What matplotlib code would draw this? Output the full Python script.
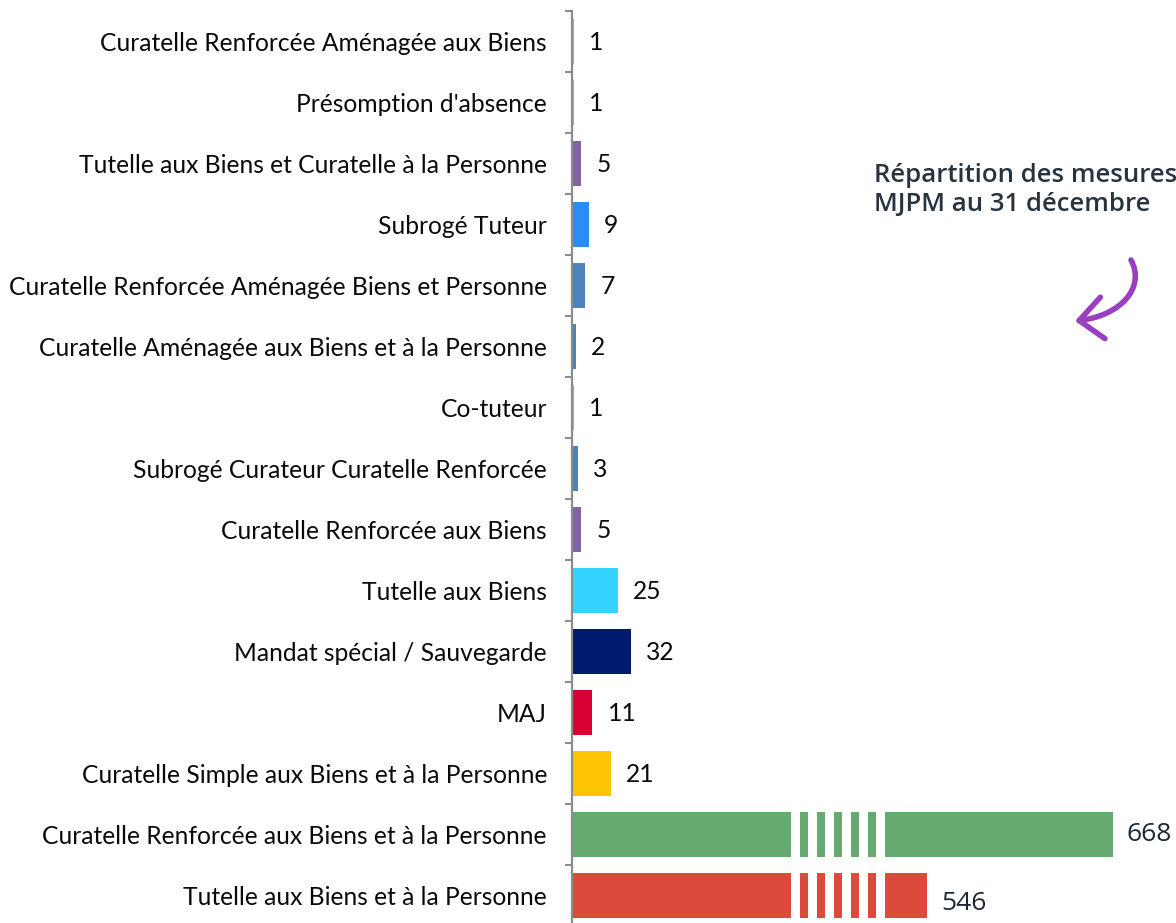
import numpy as np
import matplotlib.pyplot as plt
from matplotlib.patches import FancyArrowPatch, ArrowStyle
from matplotlib.path import Path

# Mesures suivies au 31 décembre (de haut en bas)
mesures = [
    "Curatelle Renforcée Aménagée aux Biens",
    "Présomption d'absence",
    "Tutelle aux Biens et Curatelle à la Personne",
    "Subrogé Tuteur",
    "Curatelle Renforcée Aménagée Biens et Personne",
    "Curatelle Aménagée aux Biens et à la Personne",
    "Co-tuteur",
    "Subrogé Curateur Curatelle Renforcée",
    "Curatelle Renforcée aux Biens",
    "Tutelle aux Biens",
    "Mandat spécial / Sauvegarde",
    "MAJ",
    "Curatelle Simple aux Biens et à la Personne",
    "Curatelle Renforcée aux Biens et à la Personne",
    "Tutelle aux Biens et à la Personne",
]
effectifs = [1, 1, 5, 9, 7, 2, 1, 3, 5, 25, 32, 11, 21, 668, 546]

couleurs = [
    "#95B3D7", "#95B3D7", "#8064A2", "#2A8CF7", "#4F81BD",
    "#4F81BD", "#95B3D7", "#4F81BD", "#8064A2", "#33D4FF",
    "#001A70", "#D80032", "#FFC505", "#66AA72", "#DB4A3A",
]

# axe coupé : échelle linéaire jusqu'à 119, zone de coupure, puis échelle resserrée
knots_val = [-100.0, 0.0, 119.0, 518.5, 2000.0]
knots_px = [-184.0, 0.0, 219.0, 313.0, 313.0 + (2000.0 - 518.5) * 1.525]


def fwd(v):
    return np.interp(v, knots_val, knots_px)


def inv(p):
    return np.interp(p, knots_px, knots_val)


W, H = 1176, 923
fig = plt.figure(figsize=(W / 100, H / 100), dpi=100)
ax = fig.add_axes([572 / W, -3 / H, (W - 572) / W, 915 / H])
ax.set_xscale("function", functions=(fwd, inv))

y = np.arange(len(mesures))
ax.barh(y, effectifs, height=0.75, color=couleurs, zorder=2)

# bandes blanches de la coupure sur les deux grandes barres
gros = [i for i, v in enumerate(effectifs) if v > knots_val[3]]
for k in range(6):
    p0 = 219 + 17 * k
    x0, x1 = inv(p0), inv(p0 + 9)
    ax.barh([y[i] for i in gros], x1 - x0, left=x0, height=0.8,
            color="white", zorder=3)

ax.set_xlim(0, inv(W - 572))
ax.set_ylim(len(mesures) - 0.5, -0.5)

ax.set_yticks(y)
ax.set_yticklabels(mesures, family="Lato", fontsize=17.7, color="#0A0A0A")
ax.tick_params(axis="y", which="major", length=0, pad=18)
ax.set_yticks(np.arange(len(mesures) + 1) - 0.5, minor=True)
ax.tick_params(axis="y", which="minor", length=5, width=1.5,
               color="#8C8C8C", direction="out")
ax.set_xticks([])

for s in ["top", "right", "bottom"]:
    ax.spines[s].set_visible(False)
ax.spines["left"].set_color("#8C8C8C")
ax.spines["left"].set_linewidth(1.6)
ax.spines["left"].set_zorder(4)

for i, v in enumerate(effectifs):
    if v > knots_val[3]:
        dy = 0 if v == max(effectifs) else -6
        ax.annotate(str(v), (v, i), xytext=(10, dy), textcoords="offset points",
                    va="center", ha="left", family="Open Sans", fontsize=19,
                    color="#1C2833", annotation_clip=False)
    else:
        ax.annotate(str(v), (v, i), xytext=(11, -1), textcoords="offset points",
                    va="center", ha="left", family="Lato", fontsize=17.7,
                    color="#0A0A0A")

# titre et flèche, en coordonnées pixels de la figure
over = fig.add_axes([0, 0, 1, 1], facecolor="none")
over.set_xlim(0, W)
over.set_ylim(H, 0)
over.axis("off")
over.text(874, 190, "Répartition des mesures\nMJPM au 31 décembre",
          family="Open Sans", fontweight="semibold", fontsize=18.5,
          color="#27333E", va="center", ha="left", linespacing=1.22)

chemin = Path([(1131, 260), (1146, 288), (1120, 316), (1075, 321)],
              [Path.MOVETO, Path.CURVE4, Path.CURVE4, Path.CURVE4])
fleche = FancyArrowPatch(path=chemin, transform=over.transData,
                         arrowstyle=ArrowStyle("->", head_length=17, head_width=15),
                         mutation_scale=1, color="#9A3FC0", linewidth=4,
                         capstyle="round", joinstyle="round")
over.add_patch(fleche)

fig.savefig("out.png", dpi=100)
